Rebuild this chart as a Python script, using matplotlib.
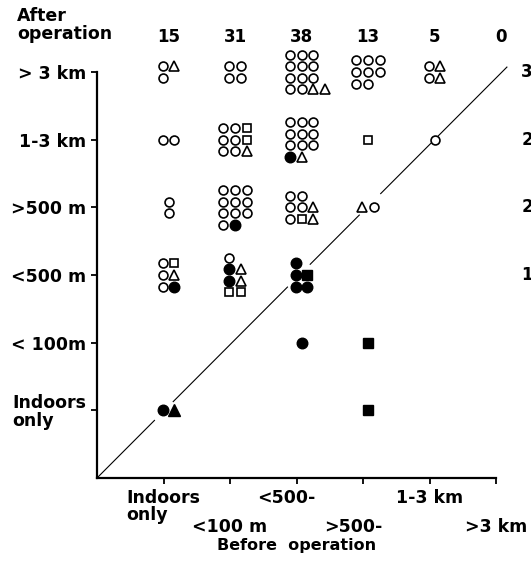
import matplotlib

matplotlib.use("Agg")
import matplotlib.pyplot as plt
import matplotlib.transforms as mtransforms
import numpy as np

plt.rcParams["font.family"] = ["DejaVu Sans"]
plt.rcParams["font.weight"] = "bold"

X_LABELS = ["Indoors\nonly", "<100 m", "<500-", ">500-", "1-3 km", ">3 km"]
Y_LABELS = ["Indoors\nonly", "< 100m", "<500 m", ">500 m", "1-3 km", "> 3 km"]

# one entry per (before, after) cell; rows are listed top to bottom.
# o open circle, c filled circle, s open square, S filled square,
# t open triangle, T filled triangle
CELLS = {
    (1, 6): ["ot", "o"],
    (2, 6): ["oo", "oo"],
    (3, 6): ["ooo", "ooo", "ooo", "oott"],
    (4, 6): ["ooo", "ooo", "oo"],
    (5, 6): ["ot", "ot"],
    (1, 5): ["oo"],
    (2, 5): ["oos", "oos", "oot"],
    (3, 5): ["ooo", "ooo", "ooo", "ct"],
    (4, 5): ["s"],
    (5, 5): ["o"],
    (1, 4): ["o", "o"],
    (2, 4): ["ooo", "ooo", "ooo", "oc"],
    (3, 4): ["oo", "oot", "ost"],
    (4, 4): ["to"],
    (1, 3): ["os", "ot", "oc"],
    (2, 3): ["o", "ct", "ct", "ss"],
    (3, 3): ["c", "cS", "cc"],
    (3, 2): ["c"],
    (4, 2): ["S"],
    (1, 1): ["cT"],
    (4, 1): ["S"],
}

# breaks in the diagonal where it runs through a cluster
DIAGONAL_GAPS = [(0.87, 1.14), (2.87, 3.20), (3.95, 4.26)]

STYLES = {
    "o": dict(marker="o", ms=6.4, mfc="white", mec="black", mew=1.2),
    "c": dict(marker="o", ms=7.6, mfc="black", mec="black", mew=1.0),
    "s": dict(marker="s", ms=6.0, mfc="white", mec="black", mew=1.2),
    "S": dict(marker="s", ms=6.6, mfc="black", mec="black", mew=1.0),
    "t": dict(marker="^", ms=7.0, mfc="white", mec="black", mew=1.2),
    "T": dict(marker="^", ms=8.0, mfc="black", mec="black", mew=1.0),
}
STEP_X, STEP_Y = 8.6, 8.3  # points between neighbouring symbols
SHIFT = 3.6  # clusters sit a little right of the tick marks
FS = 12.5


def main() -> None:
    fig = plt.figure(figsize=(5.31, 5.61), dpi=100)
    ax = fig.add_axes([97 / 531, 83 / 561, 399 / 531, 406 / 561])
    ax.set_xlim(0, 6)
    ax.set_ylim(0, 6)

    # diagonal (no change), drawn in pieces
    end = 6.17
    slope = 5 / (5 + SHIFT / 72 * 100 / 66.5)
    edges = [0.0] + [v for gap in DIAGONAL_GAPS for v in gap] + [end]
    for x0, x1 in zip(edges[::2], edges[1::2]):
        ax.plot([x0, x1], [x0 * slope, x1 * slope], color="black", lw=0.8,
                solid_capstyle="butt", clip_on=False, zorder=1)

    col_totals = np.zeros(6, dtype=int)
    row_totals = np.zeros(6, dtype=int)
    for (col, row), rows in CELLS.items():
        count = sum(len(r) for r in rows)
        col_totals[col - 1] += count
        row_totals[row - 1] += count
        width = sorted(len(r) for r in rows)[len(rows) // 2]
        for i, symbols in enumerate(rows):
            dy = ((len(rows) - 1) / 2 - i) * STEP_Y
            for j, code in enumerate(symbols):
                dx = (j - (width - 1) / 2) * STEP_X + SHIFT
                trans = mtransforms.offset_copy(ax.transData, fig, x=dx, y=dy, units="points")
                ax.plot(col, row, transform=trans, ls="none", clip_on=False, zorder=3,
                        **STYLES[code])

    top = mtransforms.offset_copy(ax.transData, fig, x=SHIFT, y=0, units="points")
    for col, total in enumerate(col_totals, start=1):
        ax.text(col, 6.51, str(total), transform=top, ha="center", va="center",
                fontsize=12, fontweight="bold", clip_on=False)
    # row totals run off the right-hand edge
    for row, total in enumerate(row_totals, start=1):
        ax.text(6.73, row, str(total), ha="right", va="center",
                fontsize=12, fontweight="bold", clip_on=False)

    for spine in ("top", "right"):
        ax.spines[spine].set_visible(False)
    for spine in ("left", "bottom"):
        ax.spines[spine].set_linewidth(1.6)

    ax.set_yticks(range(1, 7))
    ax.set_yticklabels(Y_LABELS, fontsize=FS, fontweight="bold")
    for label in ax.get_yticklabels():
        label.set_multialignment("left")
        label.set_linespacing(0.95)
    ax.set_xticks(range(1, 7))
    ax.set_xticklabels([])
    ax.tick_params(direction="out", length=4, width=1.3, pad=4)

    for i, label in enumerate(X_LABELS):
        drop = 8 if i % 2 == 0 else 29
        nudge = -7 if label.endswith("-") else 0
        ax.annotate(label, xy=(i + 1, 0), xycoords=ax.get_xaxis_transform(),
                    xytext=(nudge, -drop), textcoords="offset points",
                    ha="center", va="top", multialignment="left",
                    fontsize=FS, fontweight="bold", linespacing=0.95)

    ax.annotate("Before  operation", xy=(0.5, 0), xycoords="axes fraction",
                xytext=(0, -48.5), textcoords="offset points", ha="center", va="center",
                fontsize=11.5, fontweight="bold")
    fig.text(17 / 531, 1 - 25 / 561, "After\noperation", ha="left", va="center",
             fontsize=FS, fontweight="bold", linespacing=0.95)

    fig.savefig("out.png", dpi=100)
    plt.close(fig)


if __name__ == "__main__":
    main()
